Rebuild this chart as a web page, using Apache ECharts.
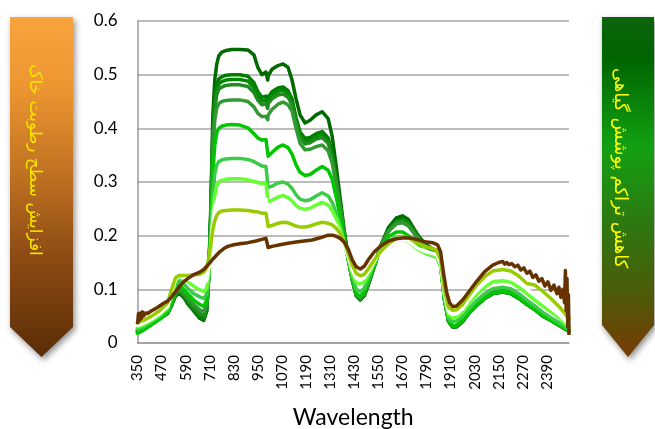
<!DOCTYPE html>
<html>
<head>
<meta charset="utf-8">
<script src="https://cdn.jsdelivr.net/npm/echarts@6/dist/echarts.min.js"></script>
<style>
html,body{margin:0;padding:0;background:#fff;}
#c{width:655px;height:429px;}
</style>
</head>
<body>
<div id="c"></div>
<script>
// Wavelengths (nm) shared by the vegetation/cover series
const wavelengths = [
  350,380,420,460,500,520,540,560,580,600,630,660,680,
  695,705,715,725,735,745,755,770,790,820,860,900,
  930,950,970,990,999,1001,1020,1050,1075,1100,1120,1140,1160,1185,1210,
  1240,1270,1300,1320,1340,1360,1380,1400,1420,1440,1460,1480,1500,1530,1560,
  1600,1640,1670,1700,1740,1780,1810,1840,1860,1880,1900,1920,1940,1970,
  2000,2040,2080,2120,2170,2210,2250,2290,2330,2370,2410,2450,2480,2500
];
const green1 = [
  .020,.025,.035,.045,.055,.070,.088,.092,.085,.075,.060,.046,.042,
  .060,.130,.250,.420,.490,.520,.535,.542,.545,.547,.547,.546,
  .537,.513,.500,.505,.490,.498,.510,.517,.520,.514,.490,.455,.425,.410,.415,
  .425,.431,.418,.385,.330,.270,.210,.160,.120,.090,.082,.090,.110,.145,.180,
  .215,.233,.237,.230,.205,.185,.178,.172,.150,.080,.040,.030,.030,.040,
  .055,.070,.083,.092,.095,.092,.083,.072,.062,.050,.042,.033,.026,.022
];
const green2 = [
  .022,.026,.036,.046,.056,.072,.090,.094,.087,.073,.060,.048,.044,
  .060,.125,.240,.390,.455,.482,.492,.496,.499,.500,.500,.497,
  .485,.468,.458,.460,.449,.458,.468,.475,.477,.470,.455,.420,.393,.381,.383,
  .390,.394,.382,.355,.310,.260,.205,.158,.118,.088,.080,.088,.108,.142,.177,
  .210,.228,.232,.226,.203,.184,.177,.171,.150,.080,.040,.030,.031,.040,
  .055,.070,.083,.092,.095,.092,.083,.072,.062,.050,.042,.033,.026,.022
];
const green3 = [
  .021,.026,.036,.046,.056,.072,.091,.096,.089,.077,.063,.050,.046,
  .062,.125,.235,.380,.446,.473,.483,.487,.490,.491,.491,.488,
  .476,.460,.451,.453,.443,.452,.462,.469,.471,.465,.450,.414,.388,.376,.378,
  .385,.389,.377,.350,.306,.257,.204,.158,.118,.089,.081,.089,.109,.143,.177,
  .209,.226,.230,.224,.201,.183,.176,.170,.149,.080,.041,.031,.032,.041,
  .056,.071,.084,.093,.096,.093,.084,.073,.063,.051,.043,.034,.027,.023
];
const green4 = [
  .024,.028,.037,.047,.057,.073,.093,.098,.090,.080,.066,.055,.050,
  .065,.125,.232,.372,.436,.463,.473,.477,.480,.481,.481,.478,
  .467,.452,.444,.446,.437,.446,.455,.462,.464,.458,.444,.409,.383,.371,.373,
  .380,.383,.372,.346,.303,.255,.203,.158,.118,.089,.082,.090,.110,.144,.177,
  .209,.225,.228,.222,.200,.182,.175,.169,.149,.081,.041,.031,.032,.042,
  .057,.072,.085,.094,.097,.094,.085,.074,.063,.052,.043,.034,.027,.023
];
const green5 = [
  .026,.030,.038,.048,.058,.075,.095,.100,.092,.085,.072,.062,.058,
  .072,.125,.225,.355,.415,.438,.446,.450,.452,.453,.453,.450,
  .440,.428,.422,.422,.416,.425,.435,.445,.449,.444,.432,.400,.372,.360,.361,
  .366,.369,.358,.335,.295,.250,.200,.157,.118,.090,.084,.092,.112,.145,.178,
  .208,.222,.224,.218,.198,.180,.174,.168,.148,.082,.042,.032,.033,.043,
  .058,.073,.086,.095,.098,.095,.086,.075,.064,.053,.044,.035,.028,.024
];
const green6 = [
  .018,.024,.034,.044,.056,.075,.100,.108,.100,.092,.080,.072,.068,
  .080,.125,.210,.315,.368,.392,.400,.404,.406,.407,.406,.401,
  .390,.382,.378,.379,.376,.348,.355,.365,.369,.364,.352,.332,.318,.312,.314,
  .322,.329,.322,.305,.272,.235,.193,.155,.118,.092,.087,.095,.115,.145,.175,
  .198,.207,.207,.200,.183,.170,.166,.162,.145,.080,.042,.032,.033,.042,
  .056,.071,.084,.093,.096,.093,.084,.073,.062,.051,.042,.033,.027,.022
];
const green7 = [
  .025,.030,.040,.050,.062,.082,.108,.116,.110,.102,.092,.086,.083,
  .090,.125,.190,.270,.315,.332,.338,.341,.343,.344,.344,.342,
  .338,.334,.330,.329,.328,.290,.292,.298,.300,.296,.288,.276,.268,.265,.267,
  .274,.280,.274,.262,.243,.218,.188,.157,.123,.100,.096,.102,.120,.148,.172,
  .190,.197,.198,.193,.178,.168,.164,.160,.143,.082,.046,.040,.041,.050,
  .064,.079,.092,.101,.104,.101,.092,.080,.069,.057,.047,.038,.030,.025
];
const green8 = [
  .030,.034,.042,.052,.066,.090,.118,.124,.120,.115,.106,.099,.096,
  .102,.130,.180,.240,.275,.292,.300,.303,.305,.306,.306,.304,
  .301,.299,.297,.297,.296,.263,.266,.272,.275,.271,.265,.256,.251,.249,.251,
  .257,.262,.257,.247,.232,.212,.187,.160,.130,.112,.110,.114,.127,.150,.170,
  .185,.192,.193,.189,.176,.168,.165,.162,.145,.088,.053,.047,.048,.058,
  .073,.090,.104,.114,.116,.113,.104,.092,.080,.069,.058,.047,.036,.030
];
const paleSeries = [
  .033,.037,.045,.055,.068,.095,.120,.125,.122,.120,.115,.110,.110,
  .118,.140,.180,.225,.252,.265,.271,.274,.276,.277,.277,.275,
  .272,.270,.268,.268,.267,.240,.242,.247,.249,.246,.241,.235,.231,.230,.231,
  .236,.240,.237,.229,.218,.203,.183,.162,.136,.120,.118,.122,.133,.153,.170,
  .184,.191,.193,.190,.178,.171,.168,.165,.148,.092,.058,.053,.054,.064,
  .080,.098,.112,.122,.125,.122,.113,.101,.089,.077,.065,.053,.042,.035
];
const yellowGreen = [
  .038,.042,.050,.060,.075,.100,.122,.126,.126,.126,.127,.128,.132,
  .140,.158,.183,.210,.228,.238,.243,.246,.247,.248,.248,.247,
  .245,.244,.242,.242,.241,.217,.219,.223,.225,.224,.221,.218,.216,.216,.218,
  .222,.225,.223,.220,.214,.204,.188,.167,.145,.130,.125,.128,.138,.155,.170,
  .185,.195,.198,.196,.187,.180,.177,.173,.155,.098,.066,.061,.062,.072,
  .088,.108,.124,.134,.137,.134,.125,.111,.108,.096,.083,.068,.055,.045
];
// Bare soil (brown) curve has its own sampling because of the noisy ends
const soilWavelengths = [
  350,355,360,365,370,375,380,390,400,420,440,460,480,500,520,540,560,580,600,620,640,660,680,
  700,720,740,760,780,800,830,860,900,940,970,990,999,1001,1020,1060,1100,1140,1180,1220,1260,
  1300,1320,1340,1360,1380,1400,1420,1440,1460,1480,1500,1530,1560,1600,1640,1680,1720,1760,
  1790,1820,1845,1860,1875,1890,1905,1920,1940,1970,2000,2040,2080,2120,2150,2170,2180,2190,
  2200,2215,2230,2245,2260,2275,2290,2305,2320,2335,2350,2365,2380,2395,2410,2425,2440,2450,
  2460,2470,2478,2482,2486,2490,2494,2497,2500
];
const soil = [
  .035,.055,.042,.056,.046,.058,.050,.056,.055,.060,.064,.069,.074,.078,.086,.096,.106,.114,.120,.125,.129,.132,.137,
  .145,.154,.162,.170,.176,.180,.183,.185,.187,.190,.193,.195,.196,.178,.180,.183,.186,.188,.190,.192,.196,
  .201,.201,.199,.195,.188,.175,.155,.142,.138,.143,.155,.170,.180,.190,.194,.196,.195,.191,
  .188,.187,.183,.170,.130,.095,.075,.068,.069,.080,.095,.115,.133,.145,.150,.152,.147,.150,
  .146,.148,.142,.145,.136,.140,.130,.134,.122,.127,.115,.120,.106,.114,.098,.108,.092,.104,
  .085,.100,.075,.135,.060,.120,.030,.090,.015
];
const xTickValues = [350,470,590,710,830,950,1070,1190,1310,1430,1550,1670,1790,1910,2030,2150,2270,2390];

const pairs = (xs, ys) => xs.map((x, i) => [x, ys[i]]);

const seriesDefs = [
  {name: 'g1', data: green1, color: '#006A00'},
  {name: 'g2', data: green2, color: '#007D00'},
  {name: 'g3', data: green3, color: '#008A00'},
  {name: 'g4', data: green4, color: '#1E8C1E'},
  {name: 'g5', data: green5, color: '#339933'},
  {name: 'g6', data: green6, color: '#00C800'},
  {name: 'g7', data: green7, color: '#3CCB48'},
  {name: 'g8', data: green8, color: '#66FF33'},
  {name: 'pale', data: paleSeries, color: '#FFFFFF'},
  {name: 'yg', data: yellowGreen, color: '#99CC00'}
];

const series = seriesDefs.map(d => ({
  name: d.name, type: 'line', showSymbol: false, symbol: 'none',
  data: pairs(wavelengths, d.data),
  lineStyle: {width: 3.5, color: d.color, join: 'round', cap: 'round'},
  itemStyle: {color: d.color}, silent: true
}));
series.push({
  name: 'soil', type: 'line', showSymbol: false, symbol: 'none',
  data: pairs(soilWavelengths, soil),
  lineStyle: {width: 3.5, color: '#663300', join: 'round'},
  itemStyle: {color: '#663300'}, silent: true
});

const chart = echarts.init(document.getElementById('c'), null, {renderer: 'canvas'});
chart.setOption({
  animation: false,
  backgroundColor: '#ffffff',
  grid: {left: 137.5, right: 86, top: 21, bottom: 86, containLabel: false, outerBoundsMode: 'none'},
  xAxis: {
    type: 'value', min: 350, max: 2500,
    name: 'Wavelength', nameLocation: 'middle', nameGap: 63,
    nameTextStyle: {fontSize: 23, color: '#000', fontFamily: 'Lato'},
    axisLine: {show: true, lineStyle: {color: '#9a9a9a', width: 1.5}},
    axisTick: {show: false},
    splitLine: {show: false},
    axisLabel: {
      customValues: xTickValues, rotate: 90, margin: 12, hideOverlap: false,
      fontSize: 15, color: '#000', fontFamily: 'Lato',
      showMinLabel: true, showMaxLabel: true,
      formatter: v => String(v)
    }
  },
  yAxis: {
    type: 'value', min: 0, max: 0.6, interval: 0.1,
    axisLine: {show: true, lineStyle: {color: '#9a9a9a', width: 1.5}},
    axisTick: {show: false},
    splitLine: {show: true, lineStyle: {color: '#a6a6a6', width: 1.5}},
    axisLabel: {fontSize: 17, color: '#000', fontFamily: 'Lato', margin: 20,
      formatter: v => String(Math.round(v * 10) / 10)}
  },
  series: series,
  graphic: [
    {
      type: 'polygon', z: 10,
      shape: {points: [[10,17],[73,17],[73,327],[41.5,357],[10,327]]},
      style: {
        fill: new echarts.graphic.LinearGradient(0, 0, 0, 1, [
          {offset: 0, color: '#F7A43E'},
          {offset: 0.2, color: '#EE9632'},
          {offset: 0.45, color: '#C27422'},
          {offset: 0.7, color: '#8E4C14'},
          {offset: 1, color: '#5A2C06'}
        ]),
        shadowColor: 'rgba(0,0,0,0.45)', shadowBlur: 6, shadowOffsetX: 2, shadowOffsetY: 3
      }
    },
    {
      type: 'text', z: 11, x: 34, y: 160, rotation: -Math.PI / 2,
      style: {text: 'افزایش سطح رطوبت خاک', fill: '#F2E600', fontSize: 17,
        fontFamily: 'DejaVu Sans', align: 'center', verticalAlign: 'middle'}
    },
    {
      type: 'polygon', z: 10,
      shape: {points: [[602,17],[654,17],[654,325],[628,357],[602,325]]},
      style: {
        fill: new echarts.graphic.LinearGradient(0, 0, 0, 1, [
          {offset: 0, color: '#0C640C'},
          {offset: 0.12, color: '#006400'},
          {offset: 0.38, color: '#12A012'},
          {offset: 0.62, color: '#2F7610'},
          {offset: 0.82, color: '#4E5A08'},
          {offset: 1, color: '#7A3A06'}
        ]),
        shadowColor: 'rgba(0,0,0,0.45)', shadowBlur: 6, shadowOffsetX: 2, shadowOffsetY: 3
      }
    },
    {
      type: 'text', z: 11, x: 620, y: 168, rotation: -Math.PI / 2,
      style: {text: 'کاهش تراکم پوشش گیاهی', fill: '#FFFF00', fontSize: 18,
        fontFamily: 'DejaVu Sans', align: 'center', verticalAlign: 'middle'}
    }
  ]
});
</script>
</body>
</html>
